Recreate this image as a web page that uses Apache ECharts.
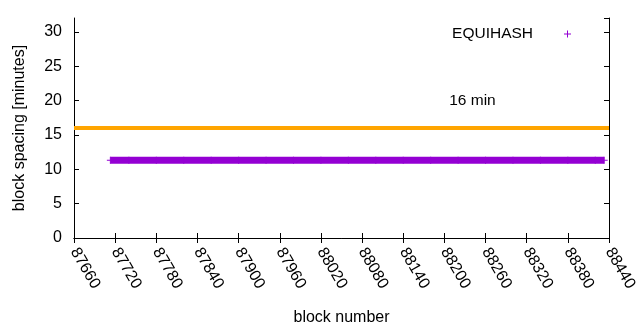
<!DOCTYPE html>
<html>
<head>
<meta charset="utf-8">
<script src="https://cdn.jsdelivr.net/npm/echarts@6/dist/echarts.min.js"></script>
<style>
html,body{margin:0;padding:0;background:#fff;}
#chart{width:640px;height:330px;}
</style>
</head>
<body>
<div id="chart"></div>
<script>
// block numbers (sampled) and block spacing in minutes
const blocks = [87713, 87740, 87780, 87820, 87860, 87900, 87940, 87980, 88020, 88060, 88100, 88140, 88180, 88220, 88260, 88300, 88340, 88380, 88420, 88433];
const spacing = [11.3, 11.3, 11.3, 11.3, 11.3, 11.3, 11.3, 11.3, 11.3, 11.3, 11.3, 11.3, 11.3, 11.3, 11.3, 11.3, 11.3, 11.3, 11.3, 11.3];
const seriesName = 'EQUIHASH';
const targetMinutes = 16;
const targetLabel = '16 min';
const xTicks = [87660, 87720, 87780, 87840, 87900, 87960, 88020, 88080, 88140, 88200, 88260, 88320, 88380, 88440];
const yTicks = [0, 5, 10, 15, 20, 25, 30];

const FONT = 'Liberation Sans, Arial, sans-serif';
const PLUS = 'path://M3,0h1v7h-1z M0,3h7v1h-7z';
const PURPLE = '#9400d3';
const ORANGE = '#ffa500';

const chart = echarts.init(document.getElementById('chart'), null, {renderer: 'canvas'});
const axisText = {color: '#000', fontFamily: FONT, fontSize: 16};

chart.setOption({
  animation: false,
  backgroundColor: '#fff',
  grid: {left: 74, right: 31, top: 18, bottom: 92, containLabel: false, outerBoundsMode: 'none'},
  legend: {
    data: [{name: seriesName, icon: PLUS, itemStyle: {color: PURPLE}}],
    right: 64,
    top: 21,
    align: 'right',
    itemWidth: 7,
    itemHeight: 7,
    selectedMode: false,
    textStyle: {color: '#000', fontFamily: FONT, fontSize: 15.5, padding: [0, 26, 0, 0]}
  },
  xAxis: [{
    type: 'value',
    min: xTicks[0],
    max: xTicks[xTicks.length - 1],
    interval: 60,
    name: 'block number',
    nameLocation: 'middle',
    nameGap: 72,
    nameTextStyle: axisText,
    axisLine: {lineStyle: {color: '#000', width: 1}},
    axisTick: {inside: true, length: 5, lineStyle: {color: '#000'}},
    axisLabel: Object.assign({rotate: -60, margin: 11, formatter: v => xTicks.includes(v) ? String(v) : ''}, axisText),
    splitLine: {show: false}
  }, {
    type: 'value',
    position: 'top',
    min: xTicks[0],
    max: xTicks[xTicks.length - 1],
    interval: 60,
    axisLine: {lineStyle: {color: '#000', width: 1}},
    axisTick: {inside: true, length: 5, lineStyle: {color: '#000'}},
    axisLabel: {show: false},
    splitLine: {show: false}
  }],
  yAxis: [{
    type: 'value',
    min: 0,
    max: 32,
    interval: 5,
    name: 'block spacing [minutes]',
    nameLocation: 'middle',
    nameGap: 46,
    nameRotate: 90,
    nameTextStyle: axisText,
    axisLine: {show: true, lineStyle: {color: '#000', width: 1}},
    axisTick: {show: true, inside: true, length: 5, lineStyle: {color: '#000'}},
    axisLabel: Object.assign({margin: 12, showMaxLabel: false, formatter: v => yTicks.includes(v) ? String(v) : ''}, axisText),
    splitLine: {show: false}
  }, {
    type: 'value',
    position: 'right',
    min: 0,
    max: 32,
    interval: 5,
    axisLine: {show: true, lineStyle: {color: '#000', width: 1}},
    axisTick: {show: true, inside: true, length: 5, lineStyle: {color: '#000'}},
    axisLabel: {show: false},
    splitLine: {show: false}
  }],
  series: [{
    name: seriesName,
    type: 'line',
    data: blocks.map((b, i) => [b, spacing[i]]),
    symbol: PLUS,
    symbolSize: 7,
    showAllSymbol: true,
    itemStyle: {color: PURPLE},
    lineStyle: {color: PURPLE, width: 7, cap: 'butt'},
    z: 3
  }, {
    name: 'target',
    type: 'line',
    data: [],
    markLine: {
      silent: true,
      symbol: 'none',
      label: {show: false},
      lineStyle: {color: ORANGE, width: 4, type: 'solid'},
      data: [{yAxis: targetMinutes}]
    },
    markPoint: {
      symbol: 'circle',
      symbolSize: 0,
      silent: true,
      label: {show: true, position: 'inside', align: 'left', verticalAlign: 'middle', formatter: targetLabel, color: '#000', fontFamily: FONT, fontSize: 15.5},
      data: [{coord: [88207, 20]}]
    },
    z: 2
  }]
});
</script>
</body>
</html>
